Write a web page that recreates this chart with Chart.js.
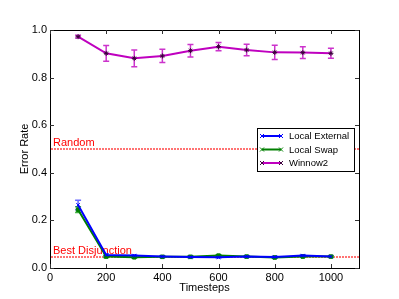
<!DOCTYPE html>
<html><head><meta charset="utf-8">
<script src="https://cdn.jsdelivr.net/npm/chart.js@4/dist/chart.umd.min.js"></script>
<style>html,body{margin:0;padding:0;background:#fff}#wrap{width:399px;height:299px}</style>
</head><body><div id="wrap"><canvas id="c" width="399" height="299"></canvas></div>
<script>
const timesteps = [100,200,300,400,500,600,700,800,900,1000];
const localExternal = [0.265,0.055,0.052,0.048,0.046,0.045,0.048,0.046,0.052,0.048];
const localExternalErr = [0.02,0.005,0.004,0.003,0.003,0.003,0.003,0.003,0.004,0.003];
const localSwap = [0.245,0.048,0.045,0.047,0.047,0.052,0.048,0.044,0.048,0.048];
const localSwapErr = [0.012,0.004,0.003,0.003,0.003,0.004,0.003,0.003,0.003,0.003];
const winnow2 = [0.972,0.902,0.881,0.891,0.913,0.930,0.916,0.906,0.905,0.902];
const winnow2Err = [0.006,0.033,0.035,0.028,0.026,0.017,0.024,0.03,0.025,0.021];
const refLines = [{label:'Random', value:0.5},{label:'Best Disjunction', value:0.045}];
const xTicks = [0,200,400,600,800,1000];
const yTicks = [0,0.2,0.4,0.6,0.8,1.0];

const FONT = "'Liberation Sans', Arial, sans-serif";
function pts(ys){ return timesteps.map((x,i)=>({x:x,y:ys[i]})); }

const series = [
  {label:'Local External', data:localExternal, err:localExternalErr, color:'#0000ff', errColor:'#6a6aff', marker:'crossRot'},
  {label:'Local Swap', data:localSwap, err:localSwapErr, color:'#007f00', errColor:'#3faf3f', marker:'rect'},
  {label:'Winnow2', data:winnow2, err:winnow2Err, color:'#bf00bf', errColor:'#cc33cc', marker:'star'}
];

const errPlugin = {
  id:'extras',
  beforeDatasetsDraw(chart){
    const {ctx, chartArea:a, scales:{x,y}} = chart;
    ctx.save();
    // reference lines (dotted, red)
    ctx.fillStyle = 'rgba(255,0,0,0.55)';
    refLines.forEach(r=>{
      const py = Math.round(y.getPixelForValue(r.value)) - 1;
      for(let px = Math.round(a.left)+1; px < a.right; px += 3){
        ctx.fillRect(px, py, 2, 2);
      }
    });
    ctx.fillStyle = '#ff0000';
    ctx.font = '11px '+FONT; ctx.textBaseline='alphabetic';
    refLines.forEach(r=>{
      const py = y.getPixelForValue(r.value);
      ctx.fillText(r.label, a.left+3, py-3);
    });
    // error bars
    chart.data.datasets.forEach((ds,di)=>{
      const s = series[di];
      ctx.strokeStyle = s.errColor; ctx.lineWidth = 1.5;
      ds.data.forEach((p,i)=>{
        const px = x.getPixelForValue(p.x);
        const y1 = y.getPixelForValue(p.y + s.err[i]);
        const y2 = y.getPixelForValue(p.y - s.err[i]);
        ctx.beginPath();
        ctx.moveTo(px,y1); ctx.lineTo(px,y2);
        ctx.moveTo(px-3,y1); ctx.lineTo(px+3,y1);
        ctx.moveTo(px-3,y2); ctx.lineTo(px+3,y2);
        ctx.stroke();
      });
    });
    ctx.restore();
  },
  afterDraw(chart){
    const {ctx, chartArea:a, scales:{x,y}} = chart;
    ctx.save();
    ctx.strokeStyle = '#000'; ctx.lineWidth = 1;
    ctx.strokeRect(Math.round(a.left)+0.5, Math.round(a.top)+0.5, Math.round(a.right-a.left), Math.round(a.bottom-a.top));
    ctx.strokeStyle = '#333';
    ctx.beginPath();
    xTicks.forEach(v=>{
      const px = Math.round(x.getPixelForValue(v))+0.5;
      ctx.moveTo(px,a.bottom); ctx.lineTo(px,a.bottom-4);
      ctx.moveTo(px,a.top); ctx.lineTo(px,a.top+4);
    });
    yTicks.forEach(v=>{
      const py = Math.round(y.getPixelForValue(v))+0.5;
      ctx.moveTo(a.left,py); ctx.lineTo(a.left+4,py);
      ctx.moveTo(a.right,py); ctx.lineTo(a.right-4,py);
    });
    ctx.stroke();
    // legend
    const lx = 257, ly = 128, lw = 97, lh = 43;
    ctx.fillStyle = '#fff'; ctx.fillRect(lx,ly,lw,lh);
    ctx.strokeStyle = '#000'; ctx.strokeRect(lx+0.5,ly+0.5,lw,lh);
    ctx.font = '9.5px '+FONT; ctx.textBaseline = 'middle';
    series.forEach((s,i)=>{
      const cy = ly + 8 + i*13.5;
      ctx.strokeStyle = s.color; ctx.lineWidth = 2;
      ctx.beginPath(); ctx.moveTo(lx+5,cy); ctx.lineTo(lx+24,cy); ctx.stroke();
      ctx.lineWidth = 1; ctx.strokeStyle = (i===2)?'#40003f':s.color;
      [lx+5,lx+24].forEach(mx=>{
        ctx.beginPath();
        ctx.moveTo(mx-2,cy-2); ctx.lineTo(mx+2,cy+2); ctx.moveTo(mx-2,cy+2); ctx.lineTo(mx+2,cy-2);
        ctx.stroke();
      });
      ctx.fillStyle = '#000';
      ctx.fillText(s.label, lx+32, cy+0.5);
    });
    ctx.restore();
  }
};

new Chart(document.getElementById('c'), {
  type:'line',
  data:{datasets: series.map(s=>({
    label:s.label, data:pts(s.data), borderColor:s.color, backgroundColor:s.color,
    borderWidth:2, pointStyle:s.marker, pointRadius:2.5,
    pointBorderColor: s.marker==='star' ? '#3a003a' : s.color,
    pointBackgroundColor: s.color, pointBorderWidth:1, tension:0
  }))},
  options:{
    responsive:false, animation:false, devicePixelRatio:1,
    layout:{padding:{top:30,right:40,left:18,bottom:4}},
    plugins:{legend:{display:false}, tooltip:{enabled:false}},
    scales:{
      x:{type:'linear', min:0, max:1100,
        afterBuildTicks(s){ s.ticks = xTicks.map(v=>({value:v})); },
        afterFit(s){ s.height = 27; },
        grid:{display:false, drawTicks:false}, border:{display:false},
        ticks:{color:'#000', font:{family:FONT,size:11}, padding:3, maxRotation:0, callback:v=>String(v)},
        title:{display:true, text:'Timesteps', color:'#000', font:{family:FONT,size:11}, padding:{top:-1,bottom:0}}
      },
      y:{type:'linear', min:0, max:1.0,
        afterBuildTicks(s){ s.ticks = yTicks.map(v=>({value:v})); },
        afterFit(s){ s.width = 32; },
        grid:{display:false, drawTicks:false}, border:{display:false},
        ticks:{color:'#000', font:{family:FONT,size:11}, padding:3, callback:v=>v.toFixed(1)},
        title:{display:true, text:'Error Rate', color:'#000', font:{family:FONT,size:11}, padding:{top:0,bottom:0}}
      }
    }
  },
  plugins:[errPlugin]
});
</script></body></html>
